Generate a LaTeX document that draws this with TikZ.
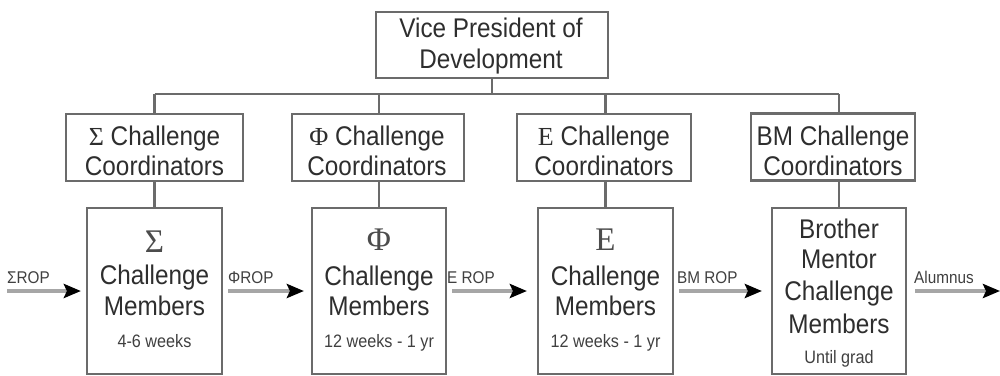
\documentclass[tikz,border=0pt]{standalone}
\usepackage{fontspec}
\setmainfont{Liberation Sans}[FakeStretch=0.9]
\newfontfamily\greek{Liberation Serif}
\usetikzlibrary{arrows.meta}
\tikzset{
  box/.style={draw=black!58, line width=2.2pt, inner sep=0pt, fill=white},
  txt/.style={anchor=base, inner sep=0pt, text=black!82, font=\fontsize{27}{30}\selectfont},
  small/.style={anchor=base, inner sep=0pt, text=black!75, font=\fontsize{18}{20}\selectfont},
  big/.style={anchor=base, inner sep=0pt, text=black!70, font=\greek\fontsize{33}{36}\selectfont},
  lab/.style={anchor=base west, inner sep=0pt, text=black!75, font=\fontsize{17}{19}\selectfont},
  link/.style={draw=black!58, line width=2.2pt},
  flow/.style={draw=black!35, line width=3.5pt, shorten <=5pt, shorten >=7pt,
    -{Stealth[length=17pt,width=14pt,inset=3pt,color=black]}},
}
\newcommand{\gk}[1]{{\greek\fontsize{26}{30}\selectfont #1}}
\begin{document}
\begin{tikzpicture}[x=1pt,y=-1pt]
\useasboundingbox (0,0) rectangle (1000,375);
% boxes
\node[box, minimum width=232, minimum height=66] (vp) at (492,45) {};
\node[box, minimum width=177, minimum height=67] (c1) at (154.5,147.5) {};
\node[box, minimum width=172, minimum height=67] (c2) at (378,147.5) {};
\node[box, minimum width=174, minimum height=67] (c3) at (604,147.5) {};
\node[box, minimum width=164, minimum height=67] (c4) at (833,147) {};
\node[box, minimum width=135, minimum height=166] (m1) at (154.5,291) {};
\node[box, minimum width=134, minimum height=166] (m2) at (379,291) {};
\node[box, minimum width=135, minimum height=166] (m3) at (605.5,291) {};
\node[box, minimum width=134, minimum height=166] (m4) at (839,291) {};
% org connectors
\coordinate (bus) at (0,94);
\draw[link] (vp.south) -- (vp.south |- bus);
\draw[link] (m1.north |- bus) -- (m4.north |- bus);
\foreach \i in {1,2,3,4}{
  \draw[link] (m\i.north |- bus) -- (m\i.north |- c\i.north);
  \draw[link] (m\i.north |- c\i.south) -- (m\i.north);
}
% flow arrows
\coordinate (in) at (2,291);
\coordinate (out) at (1000,291);
\draw[flow, shorten >=5pt] (in) -- (m1.west);
\draw[flow] (m1.east) -- (m2.west);
\draw[flow, shorten >=10pt] (m2.east) -- (m3.west);
\draw[flow, shorten >=9pt] (m3.east) -- (m4.west);
\draw[flow, shorten <=8pt, shorten >=0pt] (m4.east) -- (out);
% flow labels
\node[lab] (l0) at (7,283) {ΣROP};
\node[lab] (l1) at (228,283) {ΦROP};
\node[lab] (l2) at (447,283) {E ROP};
\node[lab] (l3) at (677,283) {BM ROP};
\node[lab] (l4) at (914,283) {Alumnus};
% VP text
\node[txt] (vpa) at (491,37) {Vice President of};
\node[txt] (vpb) at (491,68) {Development};
% coordinator texts
\node[txt] (c1a) at (154.5,145) {\gk{Σ} Challenge};
\node[txt] (c1b) at (154.5,175) {Coordinators};
\node[txt] (c2a) at (377,145) {\gk{Φ} Challenge};
\node[txt] (c2b) at (377,175) {Coordinators};
\node[txt] (c3a) at (604,145) {\gk{E} Challenge};
\node[txt] (c3b) at (604,175) {Coordinators};
\node[txt] (c4a) at (833,145) {BM Challenge};
\node[txt] (c4b) at (833,175) {Coordinators};
% member texts
\node[big] (m1g) at (154.5,252) {Σ};
\node[txt] (m1a) at (154.5,284) {Challenge};
\node[txt] (m1b) at (154.5,315) {Members};
\node[small] (m1c) at (154.5,347) {4-6 weeks};
\node[big] (m2g) at (379,250) {Φ};
\node[txt] (m2a) at (379,285) {Challenge};
\node[txt] (m2b) at (379,315) {Members};
\node[small] (m2c) at (379,347) {12 weeks - 1 yr};
\node[big] (m3g) at (605.5,250) {E};
\node[txt] (m3a) at (605.5,285) {Challenge};
\node[txt] (m3b) at (605.5,315) {Members};
\node[small] (m3c) at (605.5,347) {12 weeks - 1 yr};
\node[txt] (m4a) at (839,238) {Brother};
\node[txt] (m4b) at (839,268) {Mentor};
\node[txt] (m4c) at (839,300) {Challenge};
\node[txt] (m4d) at (839,333) {Members};
\node[small] (m4e) at (839,363) {Until grad};
\end{tikzpicture}
\end{document}
